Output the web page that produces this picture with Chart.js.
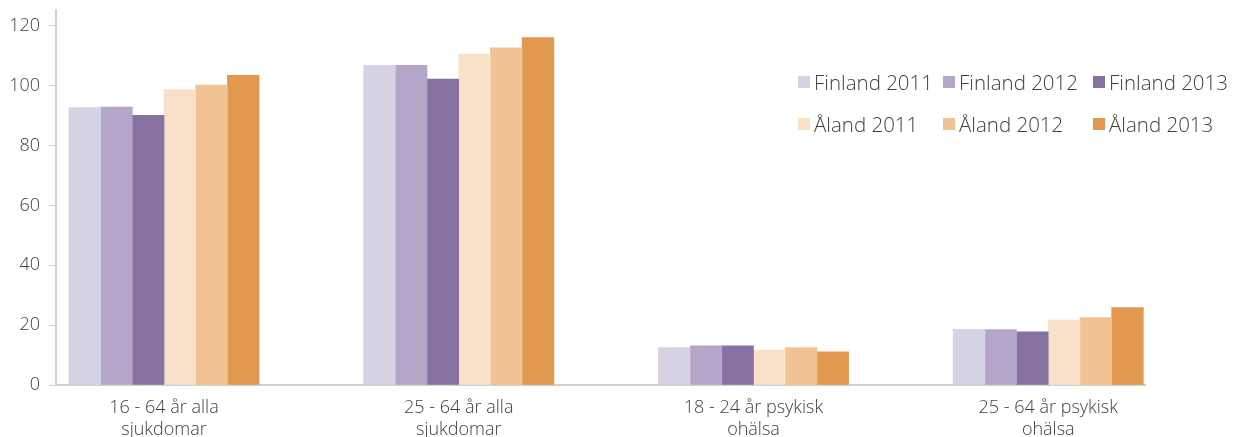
<!DOCTYPE html>
<html>
<head>
<meta charset="utf-8">
<script src="https://cdn.jsdelivr.net/npm/chart.js@4.4.1/dist/chart.umd.min.js"></script>
<style>
    html, body { margin: 0; padding: 0; background: #ffffff; }
    #wrap { position: relative; width: 1238px; height: 437px; }
    #legend {
        position: absolute; left: 798px; top: 68px;
        display: grid; grid-template-columns: 145px 150px 140px; row-gap: 15px;
        font-family: 'Open Sans', sans-serif; font-weight: 300; font-size: 20.5px; color: #404040;
    }
    #legend .item { display: flex; align-items: center; white-space: nowrap; height: 27px; }
    #legend .box { width: 12px; height: 12px; margin-right: 4px; flex: none; }
</style>
</head>
<body>
<div id="wrap">
    <canvas id="chart" width="1238" height="437"></canvas>
    <div id="legend"></div>
</div>
<script>
// Categories and series
const categories = [
    ['16 - 64 år alla', 'sjukdomar'],
    ['25 - 64 år alla', 'sjukdomar'],
    ['18 - 24 år psykisk', 'ohälsa'],
    ['25 - 64 år psykisk', 'ohälsa']
];
const seriesNames = ['Finland 2011', 'Finland 2012', 'Finland 2013', 'Åland 2011', 'Åland 2012', 'Åland 2013'];
const finland2011 = [92.7, 106.8, 12.5, 18.6];
const finland2012 = [92.9, 106.8, 13.1, 18.5];
const finland2013 = [90.1, 102.2, 13.1, 17.8];
const aland2011 = [98.7, 110.6, 11.7, 21.7];
const aland2012 = [100.2, 112.7, 12.5, 22.5];
const aland2013 = [103.5, 116.1, 11.1, 25.9];
const yTicks = [0, 20, 40, 60, 80, 100, 120];

const seriesValues = [finland2011, finland2012, finland2013, aland2011, aland2012, aland2013];
const seriesColors = ['#d8d2e5', '#b4a6c8', '#8671a1', '#f8e0c9', '#f1c294', '#e3984f'];

const datasets = seriesNames.map((name, i) => ({
    label: name,
    data: seriesValues[i].map((v, j) => ({ x: j, y: v })),
    backgroundColor: seriesColors[i],
    borderWidth: 0,
    barThickness: 31.7
}));

new Chart(document.getElementById('chart').getContext('2d'), {
    type: 'bar',
    data: { datasets },
    options: {
        responsive: false,
        animation: false,
        layout: { padding: { top: 10, right: 93, left: 0, bottom: 0 } },
        plugins: {
            legend: { display: false },
            tooltip: { enabled: false }
        },
        scales: {
            x: {
                type: 'linear',
                offset: false,
                min: -0.3664,
                max: 3.3283,
                afterFit: (scale) => {
                    scale.height = 52;
                    scale.paddingLeft = 0;
                    scale.paddingRight = 0;
                },
                grid: { display: false, drawTicks: false },
                border: { display: true, color: '#d0d0d0', width: 2 },
                ticks: {
                    stepSize: 1,
                    includeBounds: false,
                    autoSkip: false,
                    maxRotation: 0,
                    padding: 12,
                    color: '#404040',
                    font: { family: "'Open Sans', sans-serif", weight: 300, size: 18, lineHeight: 1.2 },
                    callback: (value) => categories[value] || ''
                }
            },
            y: {
                min: 0,
                max: 125.3,
                afterFit: (scale) => {
                    scale.width = 56;
                    scale.paddingTop = 0;
                    scale.paddingBottom = 0;
                },
                afterBuildTicks: (scale) => { scale.ticks = yTicks.map(v => ({ value: v })); },
                grid: { drawOnChartArea: false, drawTicks: true, tickLength: 7, color: '#d0d0d0' },
                border: { display: true, color: '#d0d0d0', width: 2 },
                ticks: {
                    padding: 9,
                    color: '#404040',
                    font: { family: "'Open Sans', sans-serif", weight: 300, size: 18 }
                }
            }
        }
    }
});

// Legend, built from the series names and colours
const legend = document.getElementById('legend');
seriesNames.forEach((name, i) => {
    const item = document.createElement('div');
    item.className = 'item';
    item.innerHTML = `<span class="box" style="background:${seriesColors[i]}"></span><span>${name}</span>`;
    legend.appendChild(item);
});
</script>
</body>
</html>
